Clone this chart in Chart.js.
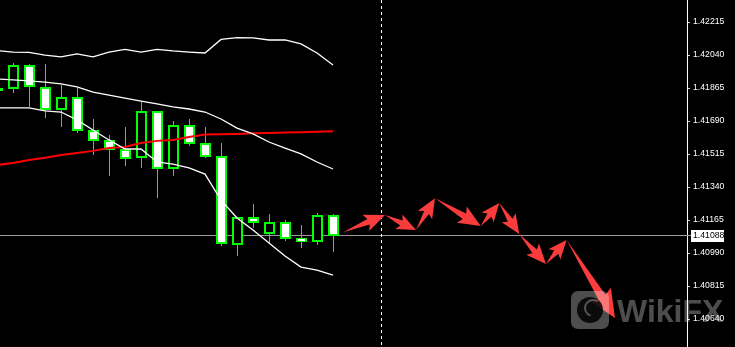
<!DOCTYPE html>
<html lang="en">
<head>
<meta charset="UTF-8">
<title>GBPUSD H1 forecast</title>
<script src="https://cdn.jsdelivr.net/npm/chart.js"></script>
<style>
  html, body { margin: 0; padding: 0; background: #000; }
  canvas { display: block; }
</style>
</head>
<body>
<canvas id="chart" width="735" height="347"></canvas>
<script>
// bar number on the time axis (-1 is the half-hidden bar at the left edge)
const bars = [-1, 0, 1, 2, 3, 4, 5, 6, 7, 8, 9, 10, 11, 12, 13, 14, 15, 16, 17, 18, 19, 20];

const open  = [1.41866, 1.41866, 1.41987, 1.41871, 1.41754, 1.41818, 1.41643, 1.41590, 1.41542, 1.41500, 1.41744,
               1.41442, 1.41669, 1.41574, 1.41505, 1.41038, 1.41181, 1.41096, 1.41154, 1.41070, 1.41054, 1.41192];
const high  = [1.41876, 1.41998, 1.41993, 1.41993, 1.41881, 1.41866, 1.41701, 1.41617, 1.41659, 1.41791, 1.41744,
               1.41691, 1.41701, 1.41659, 1.41574, 1.41181, 1.41250, 1.41197, 1.41165, 1.41139, 1.41202, 1.41197];
const low   = [1.41855, 1.41844, 1.41770, 1.41712, 1.41664, 1.41632, 1.41516, 1.41404, 1.41457, 1.41447, 1.41287,
               1.41404, 1.41564, 1.41500, 1.41033, 1.40980, 1.41128, 1.41043, 1.41059, 1.41022, 1.41038, 1.41001];
const close = [1.41866, 1.41987, 1.41876, 1.41754, 1.41818, 1.41643, 1.41590, 1.41542, 1.41495, 1.41744, 1.41442,
               1.41669, 1.41574, 1.41505, 1.41043, 1.41181, 1.41154, 1.41154, 1.41070, 1.41054, 1.41192, 1.41088];

// bollinger bands + moving average
const bbUpper  = [1.42064, 1.42056, 1.42054, 1.42040, 1.42030, 1.42046, 1.42030, 1.42056, 1.42070, 1.42056, 1.42070,
                  1.42062, 1.42056, 1.42051, 1.42123, 1.42133, 1.42131, 1.42120, 1.42120, 1.42099, 1.42051, 1.41987];
const bbMiddle = [1.41913, 1.41908, 1.41903, 1.41897, 1.41887, 1.41871, 1.41844, 1.41828, 1.41812, 1.41796, 1.41781,
                  1.41765, 1.41754, 1.41738, 1.41701, 1.41653, 1.41622, 1.41579, 1.41547, 1.41516, 1.41473, 1.41436];
const bbLower  = [1.41760, 1.41760, 1.41760, 1.41744, 1.41738, 1.41696, 1.41643, 1.41590, 1.41542, 1.41542, 1.41473,
                  1.41462, 1.41442, 1.41409, 1.41271, 1.41176, 1.41112, 1.41043, 1.40974, 1.40916, 1.40900, 1.40873];
const maRed    = [1.41457, 1.41468, 1.41484, 1.41495, 1.41510, 1.41521, 1.41532, 1.41547, 1.41553, 1.41574, 1.41585,
                  1.41590, 1.41606, 1.41619, 1.41620, 1.41622, 1.41625, 1.41627, 1.41629, 1.41631, 1.41634, 1.41636];

// forecast path drawn as arrows
const forecastBar   = [20.64, 23.25, 25.19, 26.375, 29.23, 30.39, 31.64, 33.31, 34.6, 37.625];
const forecastPrice = [1.41101, 1.41192, 1.41112, 1.41281, 1.41133, 1.41255, 1.41091, 1.40932, 1.41059, 1.40646];

const priceTicks = [1.42215, 1.42040, 1.41865, 1.41690, 1.41515, 1.41340, 1.41165, 1.40990, 1.40815, 1.40640];
const lastPrice = 1.41088;
const separatorBar = 23;

const toPoints = (vals) => bars.map((b, i) => ({ x: b, y: vals[i] }));

function drawArrow(ctx, x0, y0, x1, y1) {
  const dx = x1 - x0, dy = y1 - y0;
  const len = Math.hypot(dx, dy);
  const ux = dx / len, uy = dy / len;
  const nx = -uy, ny = ux;
  const h = Math.min(11 + 0.15 * len, len * 0.6);
  const w = h * 0.5, s = h * 0.17;
  const bx = x1 - ux * h, by = y1 - uy * h;
  const wx = x1 - ux * (h + 3), wy = y1 - uy * (h + 3);
  ctx.beginPath();
  ctx.moveTo(x0, y0);
  ctx.lineTo(bx + nx * s, by + ny * s);
  ctx.lineTo(wx + nx * w, wy + ny * w);
  ctx.lineTo(x1, y1);
  ctx.lineTo(wx - nx * w, wy - ny * w);
  ctx.lineTo(bx - nx * s, by - ny * s);
  ctx.closePath();
  ctx.fill();
}

const mt4Plugin = {
  id: 'mt4',
  beforeDraw(chart) {
    const ctx = chart.ctx;
    ctx.save();
    ctx.fillStyle = '#000';
    ctx.fillRect(0, 0, chart.width, chart.height);
    ctx.restore();
  },
  beforeDatasetsDraw(chart) {
    const { ctx, chartArea: a, scales: { x, y } } = chart;
    ctx.save();

    // current price line
    const py = Math.round(y.getPixelForValue(lastPrice)) + 0.5;
    ctx.strokeStyle = '#9a9aa4';
    ctx.lineWidth = 1;
    ctx.beginPath();
    ctx.moveTo(a.left, py);
    ctx.lineTo(a.right + 4, py);
    ctx.stroke();

    ctx.beginPath();
    ctx.rect(a.left, a.top, a.right - a.left, a.bottom - a.top);
    ctx.clip();

    // dashed vertical line
    const sx = Math.round(x.getPixelForValue(separatorBar)) + 0.5;
    ctx.strokeStyle = '#ffffff';
    ctx.setLineDash([3, 3]);
    ctx.beginPath();
    ctx.moveTo(sx, a.top);
    ctx.lineTo(sx, a.bottom);
    ctx.stroke();
    ctx.setLineDash([]);

    // candles
    bars.forEach((b, i) => {
      const cx = Math.round(x.getPixelForValue(b));
      const yH = Math.round(y.getPixelForValue(high[i]));
      const yL = Math.round(y.getPixelForValue(low[i]));
      const yT = Math.round(y.getPixelForValue(Math.max(open[i], close[i])));
      const yB = Math.round(y.getPixelForValue(Math.min(open[i], close[i])));
      ctx.fillStyle = '#00ff00';
      ctx.fillRect(cx, yH, 1, yL - yH + 1);
      const hgt = Math.max(yB - yT + 1, 3);
      ctx.fillRect(cx - 5, yT, 11, hgt);
      ctx.fillStyle = close[i] < open[i] ? '#ffffff' : '#000000';
      if (hgt > 4) ctx.fillRect(cx - 3, yT + 2, 7, hgt - 4);
      else if (close[i] < open[i]) ctx.fillRect(cx - 3, yT + 1, 7, hgt - 2);
    });
    ctx.restore();
  },
  afterDatasetsDraw(chart) {
    const { ctx, chartArea: a, scales: { x, y } } = chart;
    ctx.save();
    ctx.beginPath();
    ctx.rect(a.left, a.top, a.right - a.left, a.bottom - a.top);
    ctx.clip();
    ctx.fillStyle = '#fa3c3c';
    for (let i = 1; i < forecastBar.length; i++) {
      drawArrow(ctx,
        x.getPixelForValue(forecastBar[i - 1]), y.getPixelForValue(forecastPrice[i - 1]),
        x.getPixelForValue(forecastBar[i]), y.getPixelForValue(forecastPrice[i]));
    }
    ctx.restore();
  },
  afterDraw(chart) {
    const { ctx, chartArea: a, scales: { y } } = chart;
    ctx.save();
    // watermark
    ctx.fillStyle = 'rgba(255,255,255,0.3)';
    ctx.beginPath();
    ctx.roundRect(571, 291, 38, 38, 7);
    ctx.fill();
    ctx.fillStyle = 'rgba(0,0,0,0.85)';
    ctx.beginPath();
    ctx.arc(590, 310, 13, 0, Math.PI * 2);
    ctx.fill();
    ctx.strokeStyle = 'rgba(255,255,255,0.3)';
    ctx.lineWidth = 2;
    ctx.beginPath();
    ctx.arc(593, 308, 8, Math.PI * 0.6, Math.PI * 1.7);
    ctx.stroke();
    ctx.fillStyle = 'rgba(255,255,255,0.3)';
    ctx.font = 'bold 32px "Liberation Sans", Arial, sans-serif';
    ctx.textBaseline = 'alphabetic';
    ctx.fillText('WikiFX', 617, 322);

    // last price label
    const py = Math.round(y.getPixelForValue(lastPrice));
    ctx.fillStyle = '#ffffff';
    ctx.fillRect(a.right + 4, py - 5, 33, 12);
    ctx.fillStyle = '#000000';
    ctx.font = '8.7px "Liberation Sans", Arial, sans-serif';
    ctx.textBaseline = 'middle';
    ctx.fillText(lastPrice.toFixed(5), a.right + 6, py + 1);
    ctx.restore();
  }
};

new Chart(document.getElementById('chart'), {
  type: 'line',
  data: {
    datasets: [
      { data: toPoints(bbUpper), borderColor: '#ffffff', borderWidth: 1.3 },
      { data: toPoints(bbMiddle), borderColor: '#ffffff', borderWidth: 1.3 },
      { data: toPoints(bbLower), borderColor: '#ffffff', borderWidth: 1.3 },
      { data: toPoints(maRed), borderColor: '#ff0000', borderWidth: 2 },
      { data: forecastBar.map((b, i) => ({ x: b, y: forecastPrice[i] })), showLine: false }
    ]
  },
  options: {
    responsive: false,
    animation: false,
    events: [],
    layout: { padding: 0 },
    elements: { point: { radius: 0 }, line: { tension: 0 } },
    plugins: { legend: { display: false }, tooltip: { enabled: false } },
    scales: {
      x: { type: 'linear', min: -0.8125, max: 42.125, display: false },
      y: {
        type: 'linear',
        position: 'right',
        min: 1.40492,
        max: 1.42332,
        afterFit(s) {
          s.width = 48;
          s.paddingTop = 0;
          s.paddingBottom = 0;
        },
        afterBuildTicks(s) { s.ticks = priceTicks.map(v => ({ value: v })); },
        grid: { drawOnChartArea: false, drawTicks: true, tickLength: 3, color: '#d0d0d0' },
        border: { display: true, color: '#ffffff', width: 1 },
        ticks: {
          autoSkip: false,
          color: '#ffffff',
          padding: 3,
          font: { family: '"Liberation Sans", Arial, sans-serif', size: 8.7 },
          callback: v => v.toFixed(5)
        }
      }
    }
  },
  plugins: [mt4Plugin]
});
</script>
</body>
</html>
